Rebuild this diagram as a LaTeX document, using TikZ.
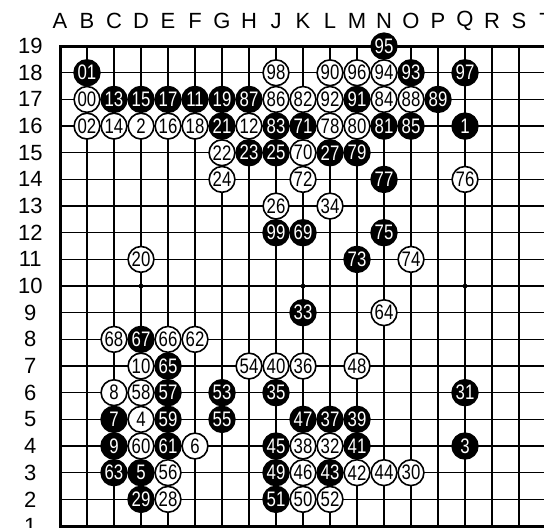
\documentclass[tikz,border=0pt]{standalone}
\usepackage{fontspec}
\setmainfont{Liberation Sans}
\newfontfamily\stonefont[FakeStretch=0.8]{Liberation Sans}

\begin{document}
\begin{tikzpicture}[x=13.5pt,y=13.33pt,
  bstone/.style={circle,fill=black,draw=black,line width=0.8pt,minimum size=12.9pt,inner sep=0pt,text=white,font=\stonefont\fontsize{10.5}{10.5}\selectfont},
  wstone/.style={circle,fill=white,draw=black,line width=0.8pt,minimum size=12.9pt,inner sep=0pt,font=\stonefont\fontsize{10.5}{10.5}\selectfont},
  coordlabel/.style={font=\fontsize{11}{11}\selectfont}]
\useasboundingbox (-2.2222,-0.075) rectangle (17.926,19.73);
% board lines
\foreach \c in {1,...,17} \draw[line width=0.65pt] (\c,0) -- (\c,18);
\foreach \r in {1,...,17} \draw[line width=0.65pt] (0,\r) -- (17.926,\r);
\draw[line width=1.5pt] (17.926,18) -- (0,18) -- (0,0) -- (17.926,0);
% hoshi
\foreach \c/\r in {3/9,9/9,15/9} \fill (\c,\r) circle (1.2pt);
% coordinates
\foreach \l [count=\i from 0] in {A,B,C,D,E,F,G,H,J,K,L,M,N,O,P,Q,R,S,T}
  \node[coordlabel] (col\l) at (\i,18.94) {\l};
\foreach \r in {1,...,19}
  \node[coordlabel] (row\r) at (-1.1,\r-1) {\r};
% black stones
\foreach \c/\r/\n in {12/18/95, 1/17/01, 13/17/93, 15/17/97,
  2/16/13, 3/16/15, 4/16/17, 5/16/11, 6/16/19, 7/16/87, 11/16/91, 14/16/89,
  6/15/21, 8/15/83, 9/15/71, 12/15/81, 13/15/85, 15/15/1,
  7/14/23, 8/14/25, 10/14/27, 11/14/79, 12/13/77,
  8/11/99, 9/11/69, 12/11/75, 11/10/73, 9/8/33, 3/7/67, 4/6/65,
  4/5/57, 6/5/53, 8/5/35, 15/5/31,
  2/4/7, 4/4/59, 6/4/55, 9/4/47, 10/4/37, 11/4/39,
  2/3/9, 4/3/61, 8/3/45, 11/3/41, 15/3/3,
  2/2/63, 3/2/5, 8/2/49, 10/2/43, 3/1/29, 8/1/51}
  \node[bstone] (b\n) at (\c,\r) {\n};
% white stones
\foreach \c/\r/\n in {8/17/98, 10/17/90, 11/17/96, 12/17/94,
  1/16/00, 8/16/86, 9/16/82, 10/16/92, 12/16/84, 13/16/88,
  1/15/02, 2/15/14, 3/15/2, 4/15/16, 5/15/18, 7/15/12, 10/15/78, 11/15/80,
  6/14/22, 9/14/70, 6/13/24, 9/13/72, 15/13/76,
  8/12/26, 10/12/34, 3/10/20, 13/10/74, 12/8/64,
  2/7/68, 4/7/66, 5/7/62,
  3/6/10, 7/6/54, 8/6/40, 9/6/36, 11/6/48,
  2/5/8, 3/5/58, 3/4/4,
  3/3/60, 5/3/6, 9/3/38, 10/3/32,
  4/2/56, 9/2/46, 11/2/42, 12/2/44, 13/2/30,
  4/1/28, 9/1/50, 10/1/52}
  \node[wstone] (w\n) at (\c,\r) {\n};
\end{tikzpicture}
\end{document}
